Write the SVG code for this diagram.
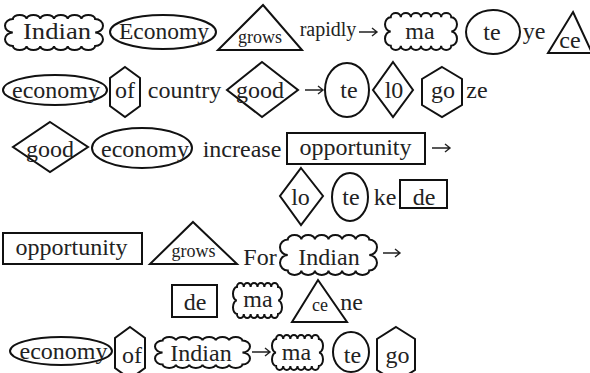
<svg xmlns="http://www.w3.org/2000/svg" width="590" height="373" viewBox="0 0 590 373">
<style>
.s{fill:none;stroke:#111;stroke-width:2}
.c{fill:none;stroke:#111;stroke-width:2;vector-effect:non-scaling-stroke}
.a{fill:none;stroke:#222;stroke-width:1.4}
text{font-family:"Liberation Serif","Times New Roman",serif;fill:#222;font-size:24px;text-anchor:middle}
.sm{font-size:18px}
.md{font-size:20px}
</style>
<defs>
<path id="cl" class="c" d="M8,4.5 a7,4.5 0 0 1 14,0 a7,4.5 0 0 1 14,0 a7,4.5 0 0 1 14,0 a7,4.5 0 0 1 14,0 a7,4.5 0 0 1 14,0 a7,4.5 0 0 1 14,0 a8,7.75 0 0 1 0,15.5 a8,7.75 0 0 1 0,15.5 a7,4.5 0 0 1 -14,0 a7,4.5 0 0 1 -14,0 a7,4.5 0 0 1 -14,0 a7,4.5 0 0 1 -14,0 a7,4.5 0 0 1 -14,0 a7,4.5 0 0 1 -14,0 a8,7.75 0 0 1 0,-15.5 a8,7.75 0 0 1 0,-15.5 Z"/>
</defs>
<rect width="590" height="373" fill="#fff"/>

<!-- Row 1 -->
<g id="n-indian1"><use href="#cl" transform="translate(5,15) scale(0.98,0.875)"/><text x="57" y="39" font-size="26" textLength="68" lengthAdjust="spacingAndGlyphs">Indian</text></g>
<g id="n-economy1"><ellipse class="s" cx="163" cy="32" rx="53" ry="17"/><text x="164" y="39" textLength="90" lengthAdjust="spacingAndGlyphs">Economy</text></g>
<g id="n-grows1"><polygon class="s" points="263,5 302,50 218,50"/><text class="sm" x="260" y="43">grows</text></g>
<g id="t-rapidly"><text class="md" x="328" y="36">rapidly</text></g>
<g id="n-ma1"><use href="#cl" transform="translate(385,13) scale(0.72,0.925)"/><text x="420" y="39" font-size="26">ma</text></g>
<g id="n-te1"><ellipse class="s" cx="493" cy="32" rx="27" ry="22"/><text x="492" y="40" font-size="26">te</text></g>
<g id="t-ye"><text x="534" y="39">ye</text></g>
<g id="n-ce1"><polygon class="s" points="573,12 592,53 548,53"/><text x="570" y="48" font-size="21">ce</text></g>

<!-- Row 2 -->
<g id="n-economy2"><ellipse class="s" cx="55" cy="90" rx="52" ry="15"/><text x="56" y="98">economy</text></g>
<g id="n-of2"><polygon class="s" points="125,67 140,78 140,106 125,117 110,106 110,78"/><text x="125" y="98">of</text></g>
<g id="t-country"><text x="184.5" y="98">country</text></g>
<g id="n-good2"><polygon class="s" points="262,62 298,90 262,117 227,90"/><text x="260" y="98" font-size="25">good</text></g>
<g id="n-te2"><ellipse class="s" cx="347" cy="90" rx="22" ry="27"/><text x="349" y="98">te</text></g>
<g id="n-l02"><polygon class="s" points="393,62 413,90 393,117 373,90"/><text x="394" y="98">l0</text></g>
<g id="n-go2"><polygon class="s" points="442,67 462,79 462,105 442,117 422,105 422,79"/><text x="443" y="98">go</text></g>
<g id="t-ze"><text x="477" y="98">ze</text></g>

<!-- Row 3 -->
<g id="n-good3"><polygon class="s" points="50,122 88,147 50,172 13,147"/><text x="50" y="157" font-size="23">good</text></g>
<g id="n-economy3"><ellipse class="s" cx="142" cy="148" rx="50" ry="20"/><text x="145" y="157">economy</text></g>
<g id="t-increase"><text x="242" y="157">increase</text></g>
<g id="n-opportunity3"><rect class="s" x="287" y="133" width="138" height="31"/><text x="355.5" y="155">opportunity</text></g>

<!-- Row 4 -->
<g id="n-lo4"><polygon class="s" points="301,168 323,196 301,225 280,196"/><text x="300.5" y="205">lo</text></g>
<g id="n-te4"><ellipse class="s" cx="350" cy="197" rx="18" ry="24"/><text x="351" y="205">te</text></g>
<g id="t-ke"><text x="385" y="205">ke</text></g>
<g id="n-de4"><rect class="s" x="400" y="180" width="47" height="28"/><text x="424" y="205">de</text></g>

<!-- Row 5 -->
<g id="n-opportunity5"><rect class="s" x="3" y="233" width="139" height="31"/><text x="71.5" y="255">opportunity</text></g>
<g id="n-grows5"><polygon class="s" points="193,222 237,264 150,264"/><text class="sm" x="193.5" y="257">grows</text></g>
<g id="t-for"><text x="260" y="265">For</text></g>
<g id="n-indian5"><use href="#cl" transform="translate(280,235) scale(0.97,1)"/><text x="329" y="265">Indian</text></g>

<!-- Row 6 -->
<g id="n-de6"><rect class="s" x="172" y="285" width="45" height="32"/><text x="195" y="310">de</text></g>
<g id="n-ma6"><use href="#cl" transform="translate(233,283) scale(0.49,0.875)"/><text x="258" y="307">ma</text></g>
<g id="n-ce6"><polygon class="s" points="318,280 347,322 292,322"/><text class="sm" x="320" y="311">ce</text></g>
<g id="t-ne"><text x="351.5" y="310">ne</text></g>

<!-- Row 7 -->
<g id="n-economy7"><ellipse class="s" cx="61" cy="351" rx="51" ry="14"/><text x="63.5" y="359">economy</text></g>
<g id="n-of7"><polygon class="s" points="130,327 145,338 145,368 130,379 115,368 115,338"/><text x="132" y="363">of</text></g>
<g id="n-indian7"><use href="#cl" transform="translate(155,337) scale(0.95,0.775)"/><text x="201" y="361">Indian</text></g>
<g id="n-ma7"><use href="#cl" transform="translate(272,335) scale(0.51,0.875)"/><text x="296.5" y="360">ma</text></g>
<g id="n-te7"><ellipse class="s" cx="351" cy="352" rx="18" ry="20"/><text x="352.5" y="363">te</text></g>
<g id="n-go7"><polygon class="s" points="396,327 415,339 415,370 396,382 377,370 377,339"/><text x="397.5" y="363">go</text></g>

<!-- Connectors (arrows) -->
<g id="connectors">
<path class="a" d="M359,32 H377 M372,28 L377,32 L372,36"/>
<path class="a" d="M305,90 H323 M318,86 L323,90 L318,94"/>
<path class="a" d="M432,148 H450 M445,144 L450,148 L445,152"/>
<path class="a" d="M383,253 H400 M395,249 L400,253 L395,257"/>
<path class="a" d="M252,352 H270 M265,348 L270,352 L265,356"/>
</g>
</svg>
